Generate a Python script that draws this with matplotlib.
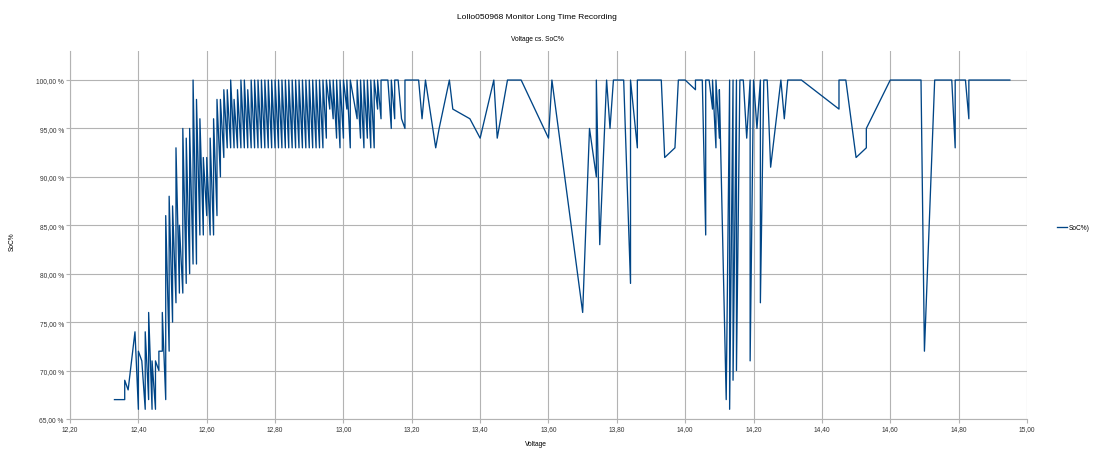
import matplotlib
matplotlib.use("Agg")
import matplotlib.pyplot as plt
from matplotlib.ticker import FuncFormatter

plt.rcParams['font.family'] = ['Liberation Sans', 'DejaVu Sans']

# voltage [V] and state of charge [%] (sorted by voltage)
voltage = [
    12.33, 12.36, 12.36, 12.37, 12.39, 12.40, 12.40, 12.41, 12.42, 12.42,
    12.43, 12.43, 12.44, 12.44, 12.45, 12.45, 12.46, 12.46, 12.47, 12.47,
    12.48, 12.48, 12.49, 12.49, 12.50, 12.50, 12.51, 12.51, 12.52, 12.52,
    12.53, 12.53, 12.54, 12.54, 12.55, 12.55, 12.56, 12.56, 12.57, 12.57,
    12.58, 12.58, 12.59, 12.59, 12.60, 12.60, 12.61, 12.61, 12.62, 12.62,
    12.63, 12.63, 12.64, 12.64, 12.65, 12.65, 12.66, 12.66, 12.67, 12.67,
    12.68, 12.68, 12.69, 12.69, 12.70, 12.70, 12.71, 12.71, 12.72, 12.72,
    12.73, 12.73, 12.74, 12.74, 12.75, 12.75, 12.76, 12.76, 12.77, 12.77,
    12.78, 12.78, 12.79, 12.79, 12.80, 12.80, 12.81, 12.81, 12.82, 12.82,
    12.83, 12.83, 12.84, 12.84, 12.85, 12.85, 12.86, 12.86, 12.87, 12.87,
    12.88, 12.88, 12.89, 12.89, 12.90, 12.90, 12.91, 12.91, 12.92, 12.92,
    12.93, 12.93, 12.94, 12.94, 12.95, 12.95, 12.96, 12.96, 12.97, 12.97,
    12.98, 12.98, 12.99, 12.99, 13.00, 13.00, 13.01, 13.01, 13.02, 13.02,
    13.04, 13.04, 13.05, 13.05, 13.06, 13.06, 13.07, 13.07, 13.08, 13.08,
    13.09, 13.09, 13.10, 13.10, 13.11, 13.11, 13.13, 13.14, 13.14, 13.15,
    13.15, 13.16, 13.17, 13.18, 13.18, 13.22, 13.23, 13.24, 13.27, 13.28,
    13.31, 13.32, 13.37, 13.40, 13.44, 13.45, 13.48, 13.52, 13.60, 13.61,
    13.70, 13.72, 13.74, 13.74, 13.75, 13.77, 13.78, 13.79, 13.82, 13.84,
    13.84, 13.86, 13.86, 13.93, 13.94, 13.97, 13.98, 14.00, 14.03, 14.03,
    14.05, 14.06, 14.06, 14.07, 14.08, 14.08, 14.09, 14.09, 14.10, 14.10,
    14.12, 14.13, 14.13, 14.14, 14.14, 14.15, 14.15, 14.16, 14.17, 14.18,
    14.19, 14.19, 14.20, 14.21, 14.22, 14.22, 14.23, 14.24, 14.25, 14.28,
    14.29, 14.30, 14.34, 14.45, 14.45, 14.47, 14.50, 14.53, 14.53, 14.60,
    14.69, 14.70, 14.73, 14.78, 14.79, 14.79, 14.82, 14.83, 14.83, 14.95,
]
soc = [
    67, 67, 69, 68, 74, 66, 72, 71, 66, 74,
    67, 76, 66, 71, 66, 71, 70, 72, 72, 76,
    67, 86, 72, 88, 75, 87, 77, 93, 78, 85,
    78, 95, 79, 94, 80, 95, 81, 100, 81, 98,
    84, 96, 84, 92, 86, 92, 84, 94, 84, 96,
    86, 98, 90, 98, 92, 99, 93, 99, 93, 100,
    93, 98, 93, 99, 93, 100, 93, 100, 93, 99,
    93, 100, 93, 100, 93, 100, 93, 100, 93, 100,
    93, 100, 93, 100, 93, 100, 93, 100, 93, 100,
    93, 100, 93, 100, 93, 100, 93, 100, 93, 100,
    93, 100, 93, 100, 93, 100, 93, 100, 93, 100,
    93, 100, 93, 100, 94, 100, 97, 100, 96, 100,
    94, 100, 93, 100, 94, 100, 97, 100, 93, 100,
    96, 100, 94, 100, 93, 100, 94, 100, 93, 100,
    93, 100, 97, 100, 96, 100, 100, 95, 100, 96,
    100, 100, 96, 95, 100, 100, 96, 100, 93, 95,
    100, 97, 96, 94, 100, 94, 100, 100, 94, 100,
    76, 95, 90, 100, 83, 100, 95, 100, 100, 79,
    100, 93, 100, 100, 92, 93, 100, 100, 99, 100,
    100, 84, 100, 100, 97, 100, 93, 100, 94, 99,
    67, 100, 66, 100, 69, 100, 70, 100, 100, 94,
    100, 71, 100, 95, 100, 77, 100, 100, 91, 100,
    96, 100, 100, 97, 100, 100, 92, 93, 95, 100,
    100, 72, 100, 100, 93, 100, 100, 96, 100, 100,
]

fig = plt.figure(figsize=(10.96, 4.56), dpi=100)
ax = fig.add_axes([0.0639, 0.079, 0.8731, 0.807])

grid_col = '#b3b3b3'
ax.plot(voltage, soc, color='#004586', lw=0.95, label='SoC%)')

ax.set_xlim(12.2, 15.0)
ax.set_ylim(65, 103)
ax.set_xticks([12.2, 12.4, 12.6, 12.8, 13.0, 13.2, 13.4, 13.6, 13.8, 14.0, 14.2, 14.4, 14.6, 14.8, 15.0])
ax.set_yticks([65, 70, 75, 80, 85, 90, 95, 100])
ax.xaxis.set_major_formatter(FuncFormatter(lambda v, p: f"{v:.2f}".replace('.', ',')))
ax.yaxis.set_major_formatter(FuncFormatter(lambda v, p: f"{v:.2f}".replace('.', ',') + " %"))
ax.grid(True, color=grid_col, lw=0.8)
ax.set_axisbelow(True)
ax.tick_params(labelsize=4.8, colors='#333333', length=3, width=0.8, color=grid_col, pad=1.5)
for s in ['top', 'right']:
    ax.spines[s].set_visible(False)
for s in ['left', 'bottom']:
    ax.spines[s].set_color(grid_col)
    ax.spines[s].set_linewidth(0.8)

fig.text(0.4899, 0.962, 'Lollo050968 Monitor Long Time Recording', ha='center', va='center', fontsize=6)
fig.text(0.4899, 0.914, 'Voltage cs. SoC%', ha='center', va='center', fontsize=4.8)
fig.text(0.489, 0.025, 'Voltage', ha='center', va='center', fontsize=4.8)
fig.text(0.011, 0.47, 'SoC%', ha='center', va='center', rotation=90, fontsize=4.8)

ax.legend(loc='center left', bbox_to_anchor=(1.025, 0.52), frameon=False,
          fontsize=4.8, handlelength=1.5, handletextpad=0.3)

fig.savefig('out.png', dpi=100)
